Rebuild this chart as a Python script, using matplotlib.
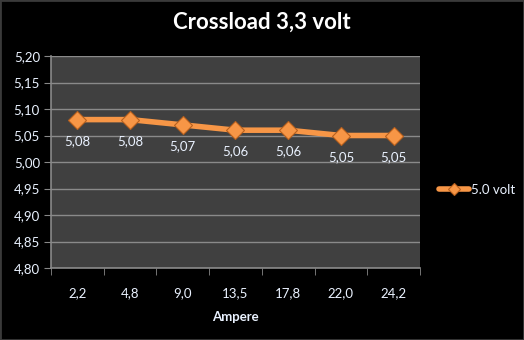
import matplotlib
matplotlib.use("Agg")
from matplotlib import pyplot as plt
import numpy as np

categories = ["2,2", "4,8", "9,0", "13,5", "17,8", "22,0", "24,2"]
volts = [5.08, 5.08, 5.07, 5.06, 5.06, 5.05, 5.05]
series_name = "5.0 volt"
y_ticks = [4.80, 4.85, 4.90, 4.95, 5.00, 5.05, 5.10, 5.15, 5.20]

plt.rcParams['font.family'] = ['Lato', 'DejaVu Sans']
txt = '#eaf2ff'
orange = '#f79646'

fig = plt.figure(figsize=(5.24, 3.4), dpi=100, facecolor='black')
ax = fig.add_axes([51/524, 1-268/340, (420-51)/524, (268-56)/340])
ax.set_facecolor('#404040')

x = np.arange(len(categories))
ax.plot(x, volts, color=orange, linewidth=4, marker='D', markersize=9,
        markerfacecolor=orange, markeredgecolor='#b8601e', markeredgewidth=0.8,
        label=series_name, solid_capstyle='round')
for xi, v in zip(x, volts):
    ax.annotate('{:.2f}'.format(v).replace('.', ','), (xi, v), xytext=(0, -11),
                textcoords='offset points', ha='center', va='top', color=txt, fontsize=9.5)

ax.set_xlim(-0.5, len(categories) - 0.5)
ax.set_ylim(4.80, 5.20)
ax.set_yticks(y_ticks)
ax.set_yticklabels(['{:.2f}'.format(t).replace('.', ',') for t in y_ticks])
ax.set_xticks(x)
ax.set_xticklabels(categories)
ax.set_xticks(np.arange(len(categories) + 1) - 0.5, minor=True)
ax.tick_params(axis='x', which='major', length=0, pad=14, colors=txt, labelsize=9.5)
ax.tick_params(axis='x', which='minor', length=5, color='#888888')
ax.tick_params(axis='y', length=5, color='#888888', labelcolor=txt, labelsize=9.5, pad=3)
ax.grid(axis='y', color='#8a8a8a', linewidth=1)
ax.set_axisbelow(True)
for s in ['top', 'right']:
    ax.spines[s].set_visible(False)
for s in ['left', 'bottom']:
    ax.spines[s].set_color('#8a8a8a')
    ax.spines[s].set_linewidth(1.2)

ax.set_xlabel('Ampere', color=txt, fontsize=9.5, fontweight='bold', labelpad=8)
fig.text(0.5, 1-22/340, 'Crossload 3,3 volt', color='white', fontsize=16,
         fontweight='bold', ha='center', va='center')

leg = fig.legend(loc='center left', bbox_to_anchor=(439/524, 1-190/340), frameon=False,
                 fontsize=9.5, labelcolor=txt, handlelength=2.3, handletextpad=0.1,
                 borderaxespad=0, borderpad=0)
for h in leg.legend_handles:
    h.set_markersize(6)
    h.set_linewidth(4)

fig.patches.append(plt.Rectangle((0, 0), 1, 1, transform=fig.transFigure, fill=False,
                                 edgecolor='#3a3a3a', linewidth=2))
fig.savefig('out.png', dpi=100, facecolor='black')
